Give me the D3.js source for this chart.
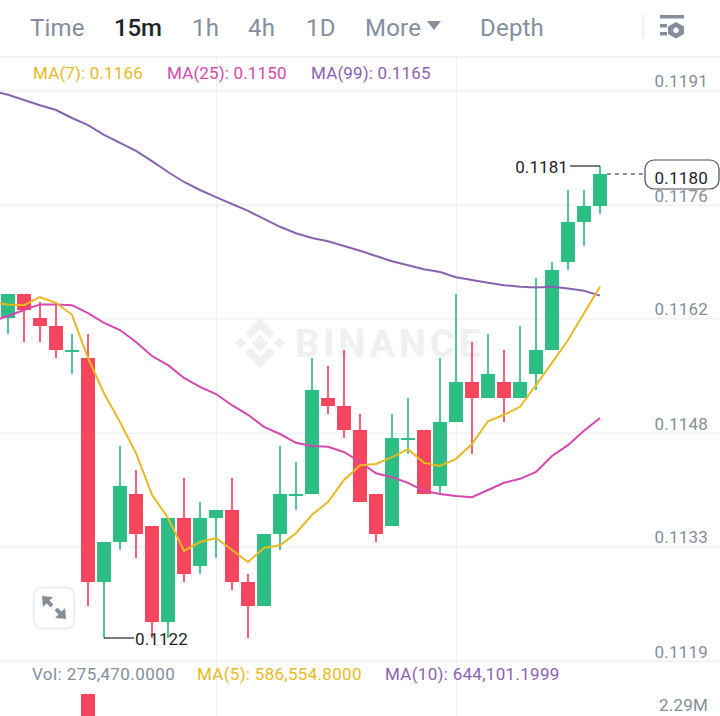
<!DOCTYPE html>
<html><head><meta charset="utf-8">
<script src="https://cdn.jsdelivr.net/npm/d3@7/dist/d3.min.js"></script>
<style>html,body{margin:0;padding:0;background:#fff}svg{display:block}text{font-family:Roboto,sans-serif}</style>
</head><body><svg id="c" width="720" height="716"></svg>
<script>
const candleIndex = d3.range(0, 38);
const opens  = [.1162,.1165,.1162,.1161,.1158,.1157,.1129,.1134,.1140,.1136,.1124,.1137,.1131,.1137,.1138,.1129,.1126,.1135,.1140,.1140,.1152,.1151,.1148,.1140,.1136,.1147,.1148,.1141,.1149,.1154,.1152,.1154,.1152,.1155,.1158,.1169,.1174,.1176];
const closes = [.1165,.1163,.1161,.1158,.1158,.1129,.1134,.1141,.1135,.1124,.1137,.1130,.1137,.1138,.1129,.1126,.1135,.1140,.1140,.1153,.1151,.1148,.1139,.1135,.1147,.1147,.1140,.1149,.1154,.1152,.1155,.1152,.1154,.1158,.1168,.1174,.1176,.1180];
const highs  = [.1165,.1165,.1164,.1164,.1160,.1160,.1134,.1146,.1143,.1136,.1137,.1142,.1139,.1138,.1142,.1130,.1135,.1146,.1144,.1157,.1156,.1158,.1150,.1140,.1150,.1152,.1148,.1157,.1165,.1159,.1160,.1158,.1161,.1167,.1169,.1178,.1178,.1181];
const lows   = [.1160,.1159,.1159,.1157,.1155,.1126,.1122,.1133,.1132,.1122,.1122,.1129,.1130,.1132,.1128,.1122,.1126,.1133,.1138,.1140,.1150,.1147,.1139,.1134,.1136,.1145,.1140,.1140,.1149,.1145,.1152,.1149,.1152,.1153,.1158,.1168,.1171,.1175];
const isUp   = [1,0,0,0,1,0,1,1,0,0,1,0,1,1,0,0,1,1,1,1,0,0,0,0,1,1,0,1,1,0,1,0,1,1,1,1,1,1];
const lineIndex = d3.range(-1, 38);
const ma7  = [.11639,.11637,.11636,.11646,.11639,.11624,.1157,.11526,.1149,.11451,.11399,.1137,.11329,.1134,.11345,.1133,.11315,.113325,.11336,.11351,.11374,.1139,.114175,.11436,.114375,.11446,.11456,.11439,.11435,.11444,.114625,.11491,.11499,.11509,.11536,.11564,.115925,.11626,.11659];
const ma25 = [.11616,.116225,.1163,.11637,.11637,.11636,.11626,.11614,.11605,.1159,.115725,.11561,.11545,.11534,.11525,.11511,.11499,.11484,.11475,.11464,.1146,.11459,.114525,.1144,.11426,.11421,.11414,.11404,.114,.113975,.11396,.11405,.11414,.11419,.114275,.114475,.11461,.11479,.11495];
const ma99 = [.11904,.11899,.118925,.11886,.1188,.1187,.11861,.11849,.11839,.11829,.11816,.118025,.1179,.1178,.11771,.117625,.11754,.11744,.11734,.11726,.1172,.11716,.1171,.11704,.116975,.11691,.11686,.11681,.116775,.11671,.116675,.11664,.11661,.11659,.11658,.11659,.11657,.11654,.11648];
const priceTicks = [.11904,.11761,.11619,.11476,.11334,.11191];
const priceTickLabels = ["0.1191","0.1176","0.1162","0.1148","0.1133","0.1119"];
const volumes = [3000000];
const volumeIndex = [5];
const volumeTick = 2290000;
const tabs = ["Time","15m","1h","4h","1D","More","Depth"];
const timeTicks = [13, 28];
const maLegend = ["MA(7): 0.1166","MA(25): 0.1150","MA(99): 0.1165"];
const volLegend = ["Vol: 275,470.0000","MA(5): 586,554.8000","MA(10): 644,101.1999"];
const lastPrice = .1180, highLabel = "0.1181", lowLabel = "0.1122", lastLabel = "0.1180";

const GREEN="#2EBD85", RED="#F6465D", GRID="#F0F1F2", GREY="#848E9C";
const YEL="#E8B923", PINK="#D548AE", PUR="#8B62B0";
const svg = d3.select("#c");
const x = d3.scaleLinear().domain([0,37]).range([8,600]);
const y = d3.scaleLinear().domain([.1119,.1181]).range([662,166]);
const yVol = d3.scaleLinear().domain([volumeTick,volumes[0]]).range([714,694]);

// horizontal separators and grid
const grid = svg.append("g").attr("stroke",GRID).attr("stroke-width",1.5);
grid.append("line").attr("x1",0).attr("x2",720).attr("y1",57).attr("y2",57);
grid.selectAll(".h").data(priceTicks).join("line").attr("x1",0).attr("x2",720)
  .attr("y1",d=>y(d)).attr("y2",d=>y(d));
grid.selectAll(".v").data(timeTicks).join("line").attr("y1",57).attr("y2",716)
  .attr("x1",d=>x(d)+0.7).attr("x2",d=>x(d)+0.7);

// watermark
const wm = svg.append("g").attr("fill","#EFF0F1");
const logo = wm.append("g").attr("transform","translate(260,343)");
[[ "M0,-8.5L8.5,0L0,8.5L-8.5,0Z"],
 ["M-25,0L-19.5,-5.5L-14,0L-19.5,5.5Z"],["M25,0L19.5,-5.5L14,0L19.5,5.5Z"],
 ["M0,-25L15,-10L9.5,-4.5L0,-14L-9.5,-4.5L-15,-10Z"],
 ["M0,25L15,10L9.5,4.5L0,14L-9.5,4.5L-15,10Z"]].forEach(p=>logo.append("path").attr("d",p[0]));
wm.append("text").attr("x",295).attr("y",357).attr("font-size",38).attr("font-weight",700)
  .attr("letter-spacing",4).text("BINANCE");

// volume
svg.append("g").selectAll("rect").data(volumes).join("rect")
  .attr("x",(d,i)=>x(volumeIndex[i])-7).attr("width",14)
  .attr("y",d=>yVol(d)).attr("height",d=>yVol(0)-yVol(d)).attr("fill",RED);

// candles
const c = svg.append("g").selectAll("g").data(candleIndex).join("g")
  .attr("fill",i=>isUp[i]?GREEN:RED).attr("stroke",i=>isUp[i]?GREEN:RED);
c.append("line").attr("x1",i=>x(i)).attr("x2",i=>x(i))
  .attr("y1",i=>y(highs[i])).attr("y2",i=>y(lows[i])).attr("stroke-width",2).attr("stroke-opacity",.85);
c.append("rect").attr("x",i=>x(i)-7).attr("width",14).attr("stroke","none")
  .attr("y",i=>y(Math.max(opens[i],closes[i])))
  .attr("height",i=>Math.max(2,Math.abs(y(opens[i])-y(closes[i]))));

// moving averages
const line = d3.line().x((d,i)=>x(lineIndex[i])).y(d=>y(d));
[[ma99,PUR],[ma25,PINK],[ma7,YEL]].forEach(([s,col])=>svg.append("path").datum(s)
  .attr("fill","none").attr("stroke",col).attr("stroke-width",2).attr("d",line));

// price axis labels
const labs = svg.append("g").attr("fill",GREY).attr("font-size",17).attr("text-anchor","end");
labs.selectAll("text").data(priceTicks).join("text").attr("x",708).attr("y",d=>y(d)-3.6)
  .attr("letter-spacing",.2).text((d,i)=>priceTickLabels[i]);
labs.append("text").attr("x",708).attr("y",yVol(volumeTick)-3).attr("letter-spacing",.2).text("2.29M");

// high / low markers
const DARK="#1E2329";
svg.append("line").attr("x1",x(6)).attr("x2",x(6)+30).attr("y1",y(.1122)).attr("y2",y(.1122)).attr("stroke",DARK).attr("stroke-width",1.2);
svg.append("text").attr("x",x(6)+31).attr("y",y(.1122)+7).attr("font-size",17).attr("fill",DARK).attr("letter-spacing",.1).text(lowLabel);
svg.append("line").attr("x1",x(37)-30).attr("x2",x(37)).attr("y1",y(.1181)).attr("y2",y(.1181)).attr("stroke",DARK).attr("stroke-width",1.2);
svg.append("text").attr("x",x(37)-32).attr("y",y(.1181)+7).attr("text-anchor","end").attr("font-size",17).attr("fill",DARK).attr("letter-spacing",.1).text(highLabel);

// last price
svg.append("line").attr("x1",x(37)+7).attr("x2",645).attr("y1",y(lastPrice)).attr("y2",y(lastPrice))
  .attr("stroke",DARK).attr("stroke-dasharray","4 4").attr("stroke-width",1.2);
svg.append("rect").attr("x",645).attr("y",160).attr("width",74).attr("height",29).attr("rx",9)
  .attr("fill","#fff").attr("stroke","#474D57").attr("stroke-width",1.2);
svg.append("text").attr("x",708).attr("y",184).attr("text-anchor","end").attr("font-size",17).attr("fill",DARK).attr("letter-spacing",.2).text(lastLabel);

// tabs
const tabX=[30,114,192,248,306,365,480];
svg.append("g").selectAll("text").data(tabs).join("text").attr("x",(d,i)=>tabX[i]).attr("y",36)
  .attr("font-size",24).attr("fill",d=>d==="15m"?DARK:GREY).attr("font-weight",d=>d==="15m"?500:400)
  .attr("letter-spacing",d=>d==="15m"?-0.1:.2).text(d=>d);
svg.append("path").attr("d","M427,21L441,21L434,30Z").attr("fill",GREY);
svg.append("line").attr("x1",643).attr("x2",643).attr("y1",14).attr("y2",38).attr("stroke","#EAECEF").attr("stroke-width",1.5);
const ic=svg.append("g").attr("fill",GREY);
ic.append("rect").attr("x",660).attr("y",15).attr("width",24).attr("height",3.5);
ic.append("rect").attr("x",660).attr("y",24).attr("width",7).attr("height",3.5);
ic.append("rect").attr("x",660).attr("y",32).attr("width",7).attr("height",3.5);
ic.append("path").attr("fill-rule","evenodd").attr("d","M676,22L684,26.5L684,34L676,38.5L668,34L668,26.5ZM676,27.5a2.8,2.8 0 1,0 0.01,0Z");

// legends
const legX=[33,167,311], legC=[YEL,PINK,PUR];
svg.append("g").selectAll("text").data(maLegend).join("text").attr("x",(d,i)=>legX[i]).attr("y",79)
  .attr("font-size",17).attr("fill",(d,i)=>legC[i]).attr("letter-spacing",.15).text(d=>d);
const volX=[32,197,385], volC=[GREY,YEL,PUR];
svg.append("g").selectAll("text").data(volLegend).join("text").attr("x",(d,i)=>volX[i]).attr("y",680)
  .attr("font-size",17).attr("fill",(d,i)=>volC[i]).attr("letter-spacing",(d,i)=>i?.3:.42).text(d=>d);

// expand button
svg.append("rect").attr("x",33.5).attr("y",587.5).attr("width",41).attr("height",41).attr("rx",9)
  .attr("fill","#fff").attr("stroke","#EAECEF").attr("stroke-width",1.8);
const ex=svg.append("g").attr("fill",GREY);
ex.append("path").attr("d","M42,596L53,597L43,607Z");
ex.append("path").attr("d","M66,619L55,618L65,608Z");
ex.append("g").attr("stroke",GREY).attr("stroke-width",4).selectAll("line").data([[46,600,52,606],[56,609,62,615]]).join("line")
  .attr("x1",d=>d[0]).attr("y1",d=>d[1]).attr("x2",d=>d[2]).attr("y2",d=>d[3]);
</script></body></html>
